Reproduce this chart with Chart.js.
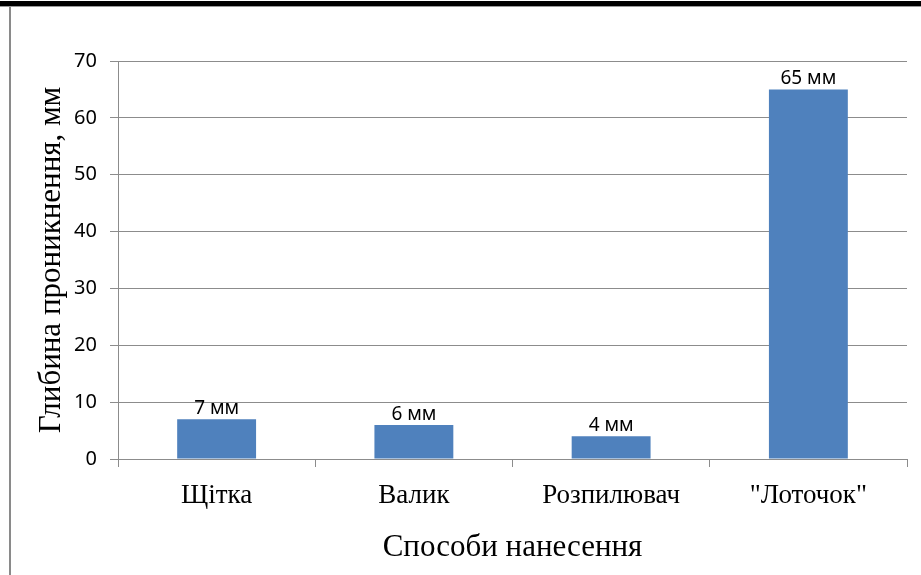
<!DOCTYPE html>
<html>
<head>
<meta charset="utf-8">
<script src="https://cdn.jsdelivr.net/npm/chart.js@4/dist/chart.umd.min.js"></script>
<style>
  html, body { margin: 0; padding: 0; background: #fff; }
  #wrap { position: relative; width: 921px; height: 575px; }
</style>
</head>
<body>
<div id="wrap"><canvas id="myChart" width="921" height="575"></canvas></div>
<script>
const categories = ["Щітка", "Валик", "Розпилювач", "\"Лоточок\""];
const depthValues = [7, 6, 4, 65];
const valueLabels = ["7 мм", "6 мм", "4 мм", "65 мм"];
const yTicks = [0, 10, 20, 30, 40, 50, 60, 70];

const xTitle = "Способи нанесення";
const yTitle = "Глибина проникнення, мм";

const gridColor = "#8c8c8c";
const barColor = "#4f81bd";

// frame of the original picture
const framePlugin = {
  id: "frame",
  beforeDraw: (chart) => {
    const ctx = chart.ctx;
    ctx.save();
    ctx.fillStyle = "#fff";
    ctx.fillRect(0, 0, chart.width, chart.height);
    ctx.fillStyle = "#000";
    ctx.fillRect(0, 1, chart.width, 5);
    ctx.fillStyle = "#9a9a9a";
    ctx.fillRect(0, 6, chart.width, 1);
    ctx.fillStyle = "#8a8a8a";
    ctx.fillRect(9, 7, 2, chart.height - 7);
    ctx.restore();
  },
};

const valueLabelPlugin = {
  id: "valueLabels",
  afterDatasetsDraw: (chart) => {
    const ctx = chart.ctx;
    const meta = chart.getDatasetMeta(0);
    ctx.save();
    ctx.font = "19px 'Noto Sans'";
    ctx.fillStyle = "#000";
    ctx.textAlign = "center";
    ctx.textBaseline = "bottom";
    meta.data.forEach((bar, i) => {
      ctx.fillText(valueLabels[i], bar.x, bar.y - 1);
    });
    ctx.restore();
  },
};

const ctx = document.getElementById("myChart").getContext("2d");
const myChart = new Chart(ctx, {
  type: "bar",
  data: {
    labels: categories,
    datasets: [
      {
        data: depthValues,
        backgroundColor: barColor,
        borderWidth: 0,
        barPercentage: 0.4,
        categoryPercentage: 1,
      },
    ],
  },
  options: {
    responsive: false,
    animation: false,
    events: [],
    layout: { padding: { left: 0, top: 61, right: 14, bottom: 0 } },
    plugins: {
      legend: { display: false },
      tooltip: { enabled: false },
    },
    scales: {
      x: {
        grid: {
          offset: true,
          drawOnChartArea: false,
          drawTicks: true,
          tickLength: 8,
          color: gridColor,
        },
        border: { color: gridColor },
        ticks: {
          color: "#000",
          padding: 13,
          font: { family: "'Liberation Serif'", size: 27 },
          maxRotation: 0,
        },
        title: {
          display: true,
          text: xTitle,
          color: "#000",
          font: { family: "'Liberation Serif'", size: 31 },
          padding: { top: 0, bottom: 9 },
        },
        afterFit: (scale) => {
          scale.height = 116;
        },
      },
      y: {
        min: 0,
        max: 70,
        afterBuildTicks: (scale) => {
          scale.ticks = yTicks.map((v) => ({ value: v }));
        },
        grid: {
          color: gridColor,
          tickLength: 8,
        },
        border: { color: gridColor },
        ticks: {
          color: "#000",
          padding: 13,
          font: { family: "'Noto Sans'", size: 20 },
        },
        title: {
          display: true,
          text: yTitle,
          color: "#000",
          font: { family: "'Liberation Serif'", size: 31 },
          padding: { top: 33, bottom: 0 },
        },
        afterFit: (scale) => {
          scale.width = 118;
        },
      },
    },
  },
  plugins: [framePlugin, valueLabelPlugin],
});
</script>
</body>
</html>
